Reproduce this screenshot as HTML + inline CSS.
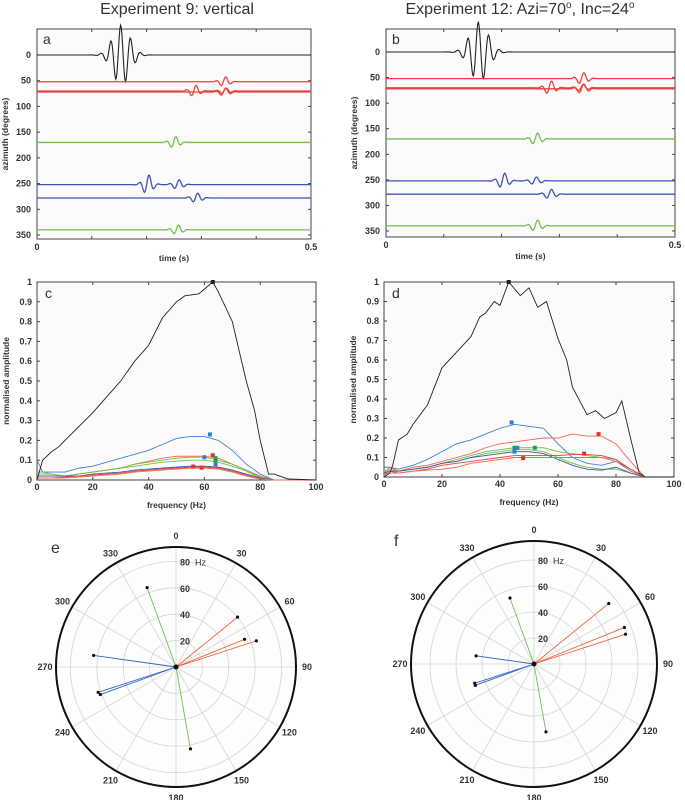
<!DOCTYPE html>
<html><head><meta charset="utf-8"><style>
html,body{margin:0;padding:0;background:#fff;}
svg{display:block;font-family:"Liberation Sans",sans-serif;}
.tk{font-size:9px;font-weight:bold;fill:#333;}
.al{font-size:8.5px;font-weight:bold;fill:#333;}
</style></head><body>
<svg id="fig" width="685" height="800" viewBox="0 0 685 800" xmlns="http://www.w3.org/2000/svg">
<text x="177" y="14" text-anchor="middle" font-size="16" fill="#333">Experiment 9: vertical</text>
<text x="520" y="14" text-anchor="middle" font-size="16" fill="#333">Experiment 12: Azi=70<tspan font-size="10" dy="-6">o</tspan><tspan dy="6">, Inc=24</tspan><tspan font-size="10" dy="-6">o</tspan></text>
</svg>
<script>
// ---------- DATA ----------
const traceAzimuths = [0, 52, 70, 72, 170, 252, 278, 340];
const traceColors = ['#222', '#e8413c', '#e8413c', '#e8413c', '#6cc24a', '#3a56b0', '#3a56b0', '#6cc24a'];
const arrivalsA = [0.142, 0.334, 0.28, 0.334, 0.243, 0.194, 0.283, 0.248];
const amplitudesA = [30, 5, 6, 4, 6, 10, 5, 5];
const arrivalsB = [0.149, 0.332, 0.276, 0.332, 0.252, 0.195, 0.276, 0.252];
const amplitudesB = [30, 6, 7, 5, 6, 8, 5, 6];
const azTicks = [0, 50, 100, 150, 200, 250, 300, 350];
const timeTicks = [0, 0.1, 0.2, 0.3, 0.4, 0.5];

const freqs = [0, 2, 5, 10, 15, 20, 25, 30, 35, 40, 45, 50, 55, 60, 65, 70, 75, 80, 85, 90, 95, 100];
const blackFreqC = [0, 2, 5, 8, 10, 15, 20, 25, 30, 35, 40, 45, 50, 53, 58, 63, 65, 70, 75, 78, 80, 83, 85, 90, 100];
const blackAmpC = [0, 0.1, 0.14, 0.17, 0.2, 0.27, 0.34, 0.42, 0.5, 0.6, 0.68, 0.82, 0.9, 0.93, 0.94, 1.0, 0.95, 0.8, 0.5, 0.35, 0.2, 0.03, 0.03, 0.005, 0];
const cBlue1 = [0.1, 0.04, 0.04, 0.04, 0.06, 0.07, 0.09, 0.11, 0.13, 0.15, 0.18, 0.21, 0.22, 0.22, 0.2, 0.15, 0.08, 0.03, 0, 0, 0, 0];
const cRed1 = [0.02, 0.02, 0.02, 0.02, 0.03, 0.04, 0.05, 0.06, 0.08, 0.095, 0.11, 0.12, 0.12, 0.12, 0.11, 0.08, 0.05, 0.02, 0, 0, 0, 0];
const cGreen1 = [0.04, 0.04, 0.03, 0.02, 0.03, 0.04, 0.05, 0.06, 0.08, 0.09, 0.1, 0.11, 0.115, 0.115, 0.1, 0.08, 0.05, 0.015, 0, 0, 0, 0];
const cGreen2 = [0.03, 0.03, 0.03, 0.02, 0.03, 0.04, 0.05, 0.06, 0.07, 0.08, 0.09, 0.095, 0.1, 0.1, 0.09, 0.07, 0.045, 0.01, 0, 0, 0, 0];
const cBlue2 = [0.02, 0.02, 0.02, 0.02, 0.02, 0.03, 0.035, 0.04, 0.05, 0.055, 0.06, 0.065, 0.07, 0.07, 0.065, 0.05, 0.03, 0.01, 0, 0, 0, 0];
const cRed2 = [0.01, 0.01, 0.01, 0.015, 0.02, 0.025, 0.03, 0.035, 0.045, 0.05, 0.055, 0.06, 0.065, 0.065, 0.06, 0.045, 0.025, 0.005, 0, 0, 0, 0];
const cRed3 = [0.01, 0.01, 0.01, 0.01, 0.015, 0.02, 0.025, 0.03, 0.04, 0.045, 0.05, 0.055, 0.06, 0.06, 0.055, 0.04, 0.02, 0.005, 0, 0, 0, 0];
const peaksCFreq = [63, 62, 63, 64, 64, 60, 64, 56, 59];
const peaksCAmp = [1.0, 0.23, 0.125, 0.11, 0.1, 0.115, 0.08, 0.068, 0.062];
const peaksCColor = ['#222', '#2a7fd4', '#e8302a', '#19a34a', '#19a34a', '#2a7fd4', '#2a7fd4', '#e8302a', '#e8302a'];

const blackFreqD = [0, 2, 3, 5, 8, 10, 15, 20, 25, 30, 33, 35, 38, 40, 43, 47, 50, 53, 56, 60, 63, 65, 70, 73, 76, 80, 82, 85, 88, 90, 100];
const blackAmpD = [0, 0.02, 0.06, 0.19, 0.22, 0.27, 0.37, 0.56, 0.64, 0.72, 0.82, 0.84, 0.9, 0.88, 1.0, 0.93, 0.97, 0.87, 0.9, 0.71, 0.6, 0.46, 0.32, 0.34, 0.3, 0.33, 0.39, 0.2, 0.02, 0, 0];
const dBlue1 = [0.05, 0.05, 0.04, 0.06, 0.09, 0.13, 0.17, 0.19, 0.22, 0.25, 0.27, 0.26, 0.25, 0.17, 0.1, 0.07, 0.06, 0.08, 0.04, 0, 0, 0];
const dRed1 = [0.02, 0.05, 0.03, 0.05, 0.06, 0.08, 0.1, 0.12, 0.15, 0.17, 0.18, 0.19, 0.2, 0.2, 0.22, 0.21, 0.21, 0.17, 0.08, 0, 0, 0];
const dGreen1 = [0.03, 0.04, 0.03, 0.04, 0.05, 0.07, 0.09, 0.11, 0.13, 0.14, 0.15, 0.15, 0.15, 0.13, 0.12, 0.11, 0.1, 0.09, 0.04, 0, 0, 0];
const dGreen2 = [0.03, 0.03, 0.03, 0.04, 0.05, 0.07, 0.08, 0.1, 0.12, 0.13, 0.14, 0.14, 0.13, 0.1, 0.07, 0.05, 0.04, 0.04, 0.02, 0, 0, 0];
const dBlue2 = [0.02, 0.03, 0.03, 0.04, 0.05, 0.07, 0.08, 0.1, 0.11, 0.12, 0.13, 0.13, 0.12, 0.09, 0.06, 0.04, 0.035, 0.05, 0.02, 0, 0, 0];
const dRed2 = [0.01, 0.03, 0.02, 0.03, 0.04, 0.06, 0.07, 0.08, 0.09, 0.1, 0.11, 0.11, 0.11, 0.11, 0.115, 0.115, 0.11, 0.09, 0.04, 0, 0, 0];
const dRed3 = [0.01, 0.02, 0.02, 0.03, 0.035, 0.04, 0.05, 0.07, 0.08, 0.09, 0.1, 0.1, 0.1, 0.1, 0.1, 0.1, 0.1, 0.08, 0.03, 0, 0, 0];
const peaksDFreq = [43, 44, 74, 69, 48, 45, 46, 52, 45];
const peaksDAmp = [1.0, 0.28, 0.22, 0.12, 0.097, 0.15, 0.15, 0.15, 0.13];
const peaksDColor = ['#222', '#2a7fd4', '#e8302a', '#e8302a', '#e8302a', '#19a34a', '#2a7fd4', '#19a34a', '#2a7fd4'];
const ampTicks = [0, 0.1, 0.2, 0.3, 0.4, 0.5, 0.6, 0.7, 0.8, 0.9, 1];
const freqTicks = [0, 20, 40, 60, 80, 100];

const polarAzimuths = [340, 170, 51, 68, 72, 278, 252, 250];
const polarColors = ['#6cc24a', '#6cc24a', '#f0603a', '#f0603a', '#f0603a', '#3a66c4', '#3a66c4', '#3a66c4'];
const polarFreqE = [64, 63, 60, 56, 64, 63, 62, 61];
const polarFreqF = [54, 53, 74, 75, 74, 45, 48, 48];
const ringValues = [20, 40, 60, 80];
const angleLabels = [0, 30, 60, 90, 120, 150, 180, 210, 240, 270, 300, 330];

// ---------- DRAWING ----------
const NS = 'http://www.w3.org/2000/svg';
const svg = document.getElementById('fig');
function mk(tag, attrs, parent) {
  const e = document.createElementNS(NS, tag);
  for (const k in attrs) e.setAttribute(k, attrs[k]);
  (parent || svg).appendChild(e);
  return e;
}
function txt(x, y, s, cls, anchor, parent) {
  const t = mk('text', {x: x, y: y, class: cls, 'text-anchor': anchor || 'middle'}, parent);
  t.textContent = s;
  return t;
}
function wavelet(s, big) {
  const f = 55, sig = big ? 0.022 : 0.012;
  const c = big ? 0.012 : 0.008;
  return -Math.sin(2 * Math.PI * f * (s + 0.003)) * Math.exp(-Math.pow((s - c) / sig, 2));
}

function seisPanel(P, arrivals, amps, letter) {
  const g = mk('g', {});
  
  
  const xs = t => P.x0 + (t / 0.5) * (P.x1 - P.x0);
  const ys = a => P.y0 + (a / 350) * (P.y350 - P.y0);
  mk('rect', {x: P.x0, y: P.top, width: P.x1 - P.x0, height: P.bot - P.top, fill: '#fdfafb', stroke: '#444', 'stroke-width': 1}, g);
  timeTicks.forEach(t => {
    mk('line', {x1: xs(t), x2: xs(t), y1: P.bot, y2: P.bot - 3, stroke: '#444'}, g);
    mk('line', {x1: xs(t), x2: xs(t), y1: P.top, y2: P.top + 3, stroke: '#444'}, g);
  });
  txt(xs(0), P.bot + 11, '0', 'tk', 'middle', g);
  txt(xs(0.5), P.bot + 11, '0.5', 'tk', 'middle', g);
  azTicks.forEach(a => {
    mk('line', {x1: P.x0, x2: P.x0 + 3, y1: ys(a), y2: ys(a), stroke: '#444'}, g);
    mk('line', {x1: P.x1, x2: P.x1 - 3, y1: ys(a), y2: ys(a), stroke: '#444'}, g);
    txt(P.x0 - 6, ys(a) + 3, String(a), 'tk', 'end', g);
  });
  const yl = txt(P.x0 - 29, (P.top + P.bot) / 2, 'azimuth (degrees)', 'al', 'middle', g);
  yl.setAttribute('transform', 'rotate(-90 ' + (P.x0 - 29) + ' ' + ((P.top + P.bot) / 2) + ')');
  
  
  const xl = txt((P.x0 + P.x1) / 2, P.bot + 22, 'time (s)', 'al', 'middle', g);
  
  
  const lt = mk('text', {x: P.x0 + 6, y: P.top + 15, 'font-size': 14, fill: '#333'}, g);
  lt.textContent = letter;
  traceAzimuths.forEach((az, i) => {
    const big = i === 0;
    let d = '';
    for (let k = 0; k <= 400; k++) {
      const t = 0.5 * k / 400;
      const v = amps[i] * wavelet(t - arrivals[i], big) +
        (i === 5 || i === 2 ? amps[i] * 0.5 * wavelet(t - arrivals[i] - 0.055, false) : 0);
      d += (k ? 'L' : 'M') + xs(t).toFixed(2) + ' ' + (ys(az) - v).toFixed(2);
    }
    const p = mk('path', {d: d, fill: 'none', stroke: traceColors[i], 'stroke-width': big ? 1.1 : 1.3}, g);
    
    
  });
}
seisPanel({x0: 37, x1: 311, top: 29, bot: 239, y0: 55, y350: 235}, arrivalsA, amplitudesA, 'a');
seisPanel({x0: 386, x1: 675, top: 29, bot: 237, y0: 52, y350: 231}, arrivalsB, amplitudesB, 'b');

function specPanel(P, blackF, blackA, curves, pF, pA, pC, letter) {
  const g = mk('g', {});
  
  
  const xs = f => P.x0 + (f / 100) * (P.x1 - P.x0);
  const ys = a => P.y0 - a * (P.y0 - P.y1);
  mk('rect', {x: P.x0, y: P.y1, width: P.x1 - P.x0, height: P.y0 - P.y1, fill: '#fdfafb', stroke: '#444', 'stroke-width': 1}, g);
  freqTicks.forEach(f => {
    mk('line', {x1: xs(f), x2: xs(f), y1: P.y0, y2: P.y0 - 3, stroke: '#444'}, g);
    mk('line', {x1: xs(f), x2: xs(f), y1: P.y1, y2: P.y1 + 3, stroke: '#444'}, g);
    txt(xs(f), P.y0 + 10, String(f), 'tk', 'middle', g);
  });
  ampTicks.forEach(a => {
    mk('line', {x1: P.x0, x2: P.x0 + 3, y1: ys(a), y2: ys(a), stroke: '#444'}, g);
    mk('line', {x1: P.x1, x2: P.x1 - 3, y1: ys(a), y2: ys(a), stroke: '#444'}, g);
    txt(P.x0 - 5, ys(a) + 3, String(a), 'tk', 'end', g);
  });
  const cy = (P.y0 + P.y1) / 2;
  const yl = txt(P.x0 - 28, cy, 'normalised amplitude', 'al', 'middle', g);
  yl.setAttribute('transform', 'rotate(-90 ' + (P.x0 - 28) + ' ' + cy + ')');
  
  
  const xl = txt((P.x0 + P.x1) / 2, P.y0 + 28, 'frequency (Hz)', 'al', 'middle', g);
  
  
  const lt = mk('text', {x: P.x0 + 8, y: P.y1 + 16, 'font-size': 14, fill: '#333'}, g);
  lt.textContent = letter;
  curves.forEach(c => {
    const d = freqs.map((f, k) => (k ? 'L' : 'M') + xs(f).toFixed(2) + ' ' + ys(c.v[k]).toFixed(2)).join('');
    const p = mk('path', {d: d, fill: 'none', stroke: c.col, 'stroke-width': 0.9}, g);
    
    
  });
  const db = blackF.map((f, k) => (k ? 'L' : 'M') + xs(f).toFixed(2) + ' ' + ys(blackA[k]).toFixed(2)).join('');
  const pb = mk('path', {d: db, fill: 'none', stroke: '#222', 'stroke-width': 0.9}, g);
  
  
  pF.forEach((f, k) => {
    const r = mk('rect', {x: xs(f) - 2, y: ys(pA[k]) - 2, width: 4, height: 4, fill: pC[k]}, g);
    
    
  });
}
specPanel({x0: 37, x1: 316, y0: 480, y1: 282}, blackFreqC, blackAmpC, [
  {v: cBlue1, col: '#3b82d6', name: 'blue-1'}, {v: cRed1, col: '#f06a50', name: 'red-1'},
  {v: cGreen1, col: '#6cc24a', name: 'green-1'}, {v: cGreen2, col: '#6cc24a', name: 'green-2'},
  {v: cBlue2, col: '#3a56b0', name: 'blue-2'}, {v: cRed2, col: '#e8413c', name: 'red-2'},
  {v: cRed3, col: '#f06a50', name: 'red-3'}], peaksCFreq, peaksCAmp, peaksCColor, 'c');
specPanel({x0: 384, x1: 674, y0: 477, y1: 282}, blackFreqD, blackAmpD, [
  {v: dBlue1, col: '#3b82d6', name: 'blue-1'}, {v: dRed1, col: '#f06a50', name: 'red-1'},
  {v: dGreen1, col: '#6cc24a', name: 'green-1'}, {v: dGreen2, col: '#6cc24a', name: 'green-2'},
  {v: dBlue2, col: '#3a56b0', name: 'blue-2'}, {v: dRed2, col: '#e8413c', name: 'red-2'},
  {v: dRed3, col: '#f06a50', name: 'red-3'}], peaksDFreq, peaksDAmp, peaksDColor, 'd');

function polarPanel(P, fr, letter) {
  const g = mk('g', {});
  
  
  const pt = (az, r) => [P.cx + r * Math.sin(az * Math.PI / 180), P.cy - r * Math.cos(az * Math.PI / 180)];
  mk('circle', {cx: P.cx, cy: P.cy, r: P.R, fill: '#fefdfd', stroke: 'none'}, g);
  ringValues.forEach(v => mk('circle', {cx: P.cx, cy: P.cy, r: v * P.k, fill: 'none', stroke: '#d4d4d4', 'stroke-width': 0.8}, g));
  angleLabels.forEach(a => {
    const e = pt(a, P.R);
    mk('line', {x1: P.cx, y1: P.cy, x2: e[0], y2: e[1], stroke: '#d4d4d4', 'stroke-width': 0.8}, g);
    const l = pt(a, P.R + 11);
    txt(l[0], l[1] + 3, String(a), 'tk', 'middle', g);
  });
  mk('circle', {cx: P.cx, cy: P.cy, r: P.R, fill: 'none', stroke: '#111', 'stroke-width': 2}, g);
  ringValues.forEach(v => {
    const t = txt(P.cx + 9, P.cy - v * P.k + 4, String(v), 'tk', 'middle', g);
    t.setAttribute('font-size', '9');
  });
  const hz = mk('text', {x: P.cx + 19, y: P.cy - 80 * P.k + 4, 'font-size': 9, fill: '#333'}, g);
  hz.textContent = 'Hz';
  polarAzimuths.forEach((az, i) => {
    const e = pt(az, fr[i] * P.k);
    const l = mk('line', {x1: P.cx, y1: P.cy, x2: e[0], y2: e[1], stroke: polarColors[i], 'stroke-width': 0.9}, g);
    
    
    mk('circle', {cx: e[0], cy: e[1], r: 1.6, fill: '#111'}, g);
  });
  mk('circle', {cx: P.cx, cy: P.cy, r: 2.5, fill: '#111'}, g);
  const lt = mk('text', {x: P.lx, y: P.ly, 'font-size': 16, fill: '#333'}, g);
  lt.textContent = letter;
}
polarPanel({cx: 176, cy: 667, R: 120, k: 1.32, lx: 51, ly: 553}, polarFreqE, 'e');
polarPanel({cx: 534, cy: 664, R: 123, k: 1.3, lx: 394, ly: 546}, polarFreqF, 'f');
</script>
</body></html>
